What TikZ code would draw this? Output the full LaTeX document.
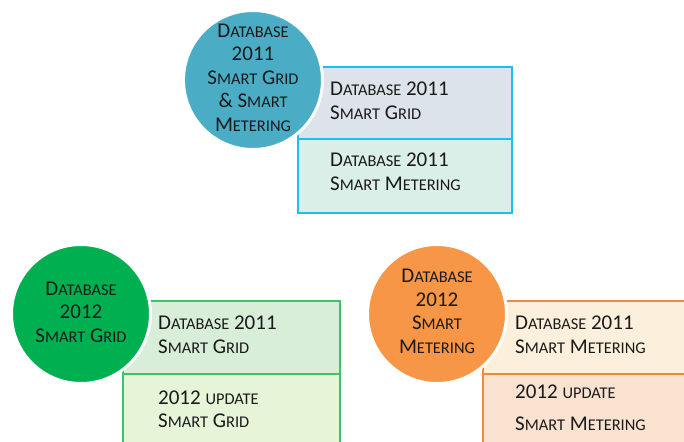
\documentclass[tikz,border=0pt]{standalone}
\usepackage{fontspec}
\setmainfont{Carlito}
\definecolor{blueC}{HTML}{4BACC6}
\definecolor{blueB}{HTML}{1EBEF0}
\definecolor{blueFa}{HTML}{DDE3EA}
\definecolor{blueFb}{HTML}{D9EFE8}
\definecolor{greenC}{HTML}{00B050}
\definecolor{greenB}{HTML}{3CC46C}
\definecolor{greenFa}{HTML}{D8EED9}
\definecolor{greenFb}{HTML}{E6F5D7}
\definecolor{orangeC}{HTML}{F79646}
\definecolor{orangeB}{HTML}{F0893A}
\definecolor{orangeFa}{HTML}{FCF0DC}
\definecolor{orangeFb}{HTML}{F9E3D0}
\definecolor{txt}{HTML}{1A1A1A}
\newcommand\sm[1]{{\fontsize{16.4}{23.5}\selectfont #1}}
\begin{document}
\begin{tikzpicture}[x=1pt,y=-1pt,
  box/.style={draw, line width=2pt, anchor=north west, inner sep=0pt},
  disc/.style={circle, draw=white, line width=3pt, minimum size=139pt, inner sep=0pt},
  lbl/.style={text=txt, font=\fontsize{21}{23.5}\selectfont, inner sep=0pt},
  lbll/.style={lbl, align=left, anchor=west},
  lblc/.style={lbl, align=center}]
\useasboundingbox (0,0) rectangle (684,441);
\clip (0,0) rectangle (684,441);
\fill[white] (0,0) rectangle (684,441);
% top group
\node[box, draw=blueB, fill=blueFa, minimum width=214pt, minimum height=72pt] (ta) at (297,66) {};
\node[box, draw=blueB, fill=blueFb, minimum width=214pt, minimum height=74pt] (tb) at (297,138) {};
\node[disc, fill=blueC] (tc) at (253,80) {};
\node[lblc] (tct) at (253,77.5) {D\sm{ATABASE}\\2011\\S\sm{MART} G\sm{RID}\\\& S\sm{MART}\\M\sm{ETERING}};
\node[lbll] (tat) at (330,101) {D\sm{ATABASE} 2011\\S\sm{MART} G\sm{RID}};
\node[lbll] (tbt) at (330,172) {D\sm{ATABASE} 2011\\S\sm{MART} M\sm{ETERING}};
% bottom left group
\node[box, draw=greenB, fill=greenFa, minimum width=217pt, minimum height=73pt] (la) at (122,300) {};
\node[box, draw=greenB, fill=greenFb, minimum width=217pt, minimum height=90pt] (lb) at (122,373) {};
\node[disc, fill=greenC] (lc) at (81,314) {};
\node[lblc] (lct) at (81,312) {D\sm{ATABASE}\\2012\\S\sm{MART} G\sm{RID}};
\node[lbll] (lat) at (158,335) {D\sm{ATABASE} 2011\\S\sm{MART} G\sm{RID}};
\node[lbll] (lbt) at (158,409.5) {2012 \sm{UPDATE}\\S\sm{MART} G\sm{RID}};
% bottom right group
\node[box, draw=orangeB, fill=orangeFa, minimum width=220pt, minimum height=73pt] (ra) at (482,300) {};
\node[box, draw=orangeB, fill=orangeFb, minimum width=220pt, minimum height=90pt] (rb) at (482,373) {};
\node[disc, fill=orangeC] (rc) at (437,314) {};
\node[lblc] (rct) at (437,311.5) {D\sm{ATABASE}\\2012\\S\sm{MART}\\M\sm{ETERING}};
\node[lbll] (rat) at (515,335) {D\sm{ATABASE} 2011\\S\sm{MART} M\sm{ETERING}};
\node[lbll] (rbt) at (515,407.5) {2012 \sm{UPDATE}\\[8.5pt]S\sm{MART} M\sm{ETERING}};
\end{tikzpicture}
\end{document}
